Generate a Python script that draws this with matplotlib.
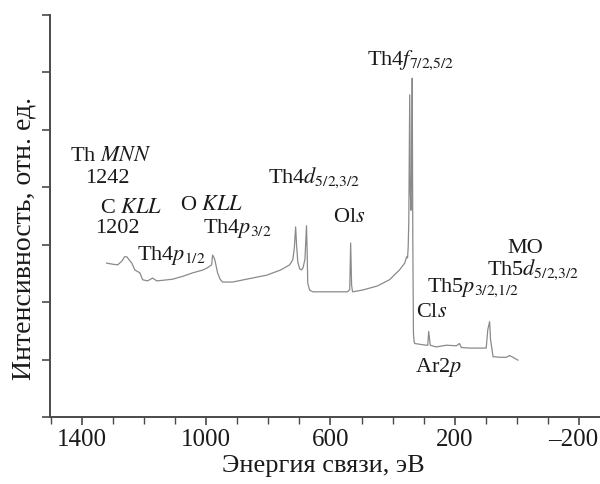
import numpy as np
import matplotlib
matplotlib.use("Agg")
import matplotlib.pyplot as plt
from matplotlib.ticker import MultipleLocator
from matplotlib.transforms import ScaledTranslation

plt.rcParams['font.family'] = ['Liberation Serif', 'DejaVu Serif']
plt.rcParams['mathtext.fontset'] = 'stix'

# XPS survey spectrum (binding energy, eV / intensity, a.u.)
energy = [1320, 1300, 1284, 1270, 1262, 1255, 1245, 1239, 1229, 1213, 1204, 1188,
          1172, 1159, 1140, 1107, 1075, 1043, 1010, 995, 982, 979, 975, 972, 963,
          955, 947, 930, 915, 860, 805, 760, 731, 721, 716, 712, 709, 705, 699,
          693, 688, 682, 677, 675, 673, 667, 657, 600, 545, 538, 535, 532, 529,
          497, 450, 410, 378, 361, 355, 352, 350, 348, 345, 343, 341, 339, 337,
          335, 333, 331, 329, 305, 292, 287, 284, 279, 260, 227, 195, 185, 179,
          152, 99, 94, 88, 85, 81, 77, 55, 34, 24, 13, -3]
intensity = [2.68, 2.66, 2.65, 2.72, 2.79, 2.79, 2.72, 2.68, 2.56, 2.51, 2.39, 2.37,
             2.42, 2.37, 2.38, 2.40, 2.45, 2.51, 2.56, 2.60, 2.65, 2.82, 2.78, 2.74, 2.51,
             2.40, 2.35, 2.35, 2.35, 2.41, 2.47, 2.56, 2.65, 2.74, 2.95, 3.31, 3.00, 2.70, 2.58,
             2.56, 2.60, 2.75, 3.33, 2.90, 2.33, 2.21, 2.18, 2.18, 2.18, 2.22, 3.03, 2.30, 2.18,
             2.21, 2.28, 2.39, 2.56, 2.68, 2.79, 2.77, 2.95, 3.40, 5.61, 3.90, 3.60, 4.20, 5.90,
             3.00, 1.45, 1.32, 1.28, 1.26, 1.25, 1.25, 1.49, 1.25, 1.22, 1.25, 1.24, 1.28, 1.21,
             1.20, 1.20, 1.52, 1.66, 1.34, 1.20, 1.05, 1.04, 1.04, 1.07, 1.04, 0.99]

xticks = [1400, 1000, 600, 200, -200]
xticklabels = ['1400', '1000', '600', '200', '\u2013200']

# peak labels: text, energy, intensity (baseline-left anchor)
labels = [
    ('Th $MNN$', 1439, 4.46),
    ('1242', 1390, 4.08),
    ('C $KLL$', 1342, 3.55),
    ('1202', 1358, 3.21),
    ('O $KLL$', 1085, 3.61),
    ('Th4$p_{3/2}$', 1011, 3.21),
    ('Th4$p_{1/2}$', 1223, 2.74),
    ('Th4$d_{5/2{,}3/2}$', 802, 4.08),
    ('Ol$s$', 593, 3.40),
    ('Th4$f_{7/2{,}5/2}$', 484, 6.13),
    ('MO', 30, 2.86),
    ('Th5$d_{5/2{,}3/2}$', 95, 2.47),
    ('Th5$p_{3/2{,}1/2}$', 291, 2.18),
    ('Cl$s$', 326, 1.74),
    ('Ar2$p$', 329, 0.78),
]

fig = plt.figure(figsize=(6.0, 4.84), dpi=100)
ax = fig.add_axes([50 / 600, 1 - 417 / 484, 550 / 600, 402 / 484])

ax.plot(energy, intensity, color='#8a8a8a', linewidth=0.9)

for txt, e, i in labels:
    ax.text(e, i, txt, fontsize=16, color='#1a1a1a', ha='left', va='baseline')

ax.set_xlim(1502, -267)
ax.set_ylim(0, 7)
ax.spines['top'].set_visible(False)
ax.spines['right'].set_visible(False)
for s in ('left', 'bottom'):
    ax.spines[s].set_color('#4a4a4a')
    ax.spines[s].set_linewidth(1.4)

ax.xaxis.set_minor_locator(MultipleLocator(100))
ax.set_xticks(xticks)
ax.set_xticklabels(xticklabels)
ax.yaxis.set_major_locator(MultipleLocator(1))
ax.set_yticklabels([])
ax.tick_params(axis='both', which='major', length=6, width=1.2, color='#4a4a4a',
               labelsize=18, labelcolor='#1a1a1a', pad=3)
ax.tick_params(axis='x', which='minor', length=5, width=1.0, color='#4a4a4a')

# last label: digits centred on the tick, dash hanging to the left
last = ax.get_xticklabels()[-1]
last.set_ha('right')
last.set_transform(last.get_transform() + ScaledTranslation(0.19, 0, fig.dpi_scale_trans))

fig.text(323.5 / 600, 1 - 466 / 484, 'Энергия связи, эВ', fontsize=19,
         color='#1a1a1a', ha='center', va='center')
fig.text(24 / 600, 1 - 238 / 484, 'Интенсивность, отн. ед.', fontsize=20,
         color='#1a1a1a', ha='center', va='center', rotation=90)

fig.savefig('out.png', dpi=100)
